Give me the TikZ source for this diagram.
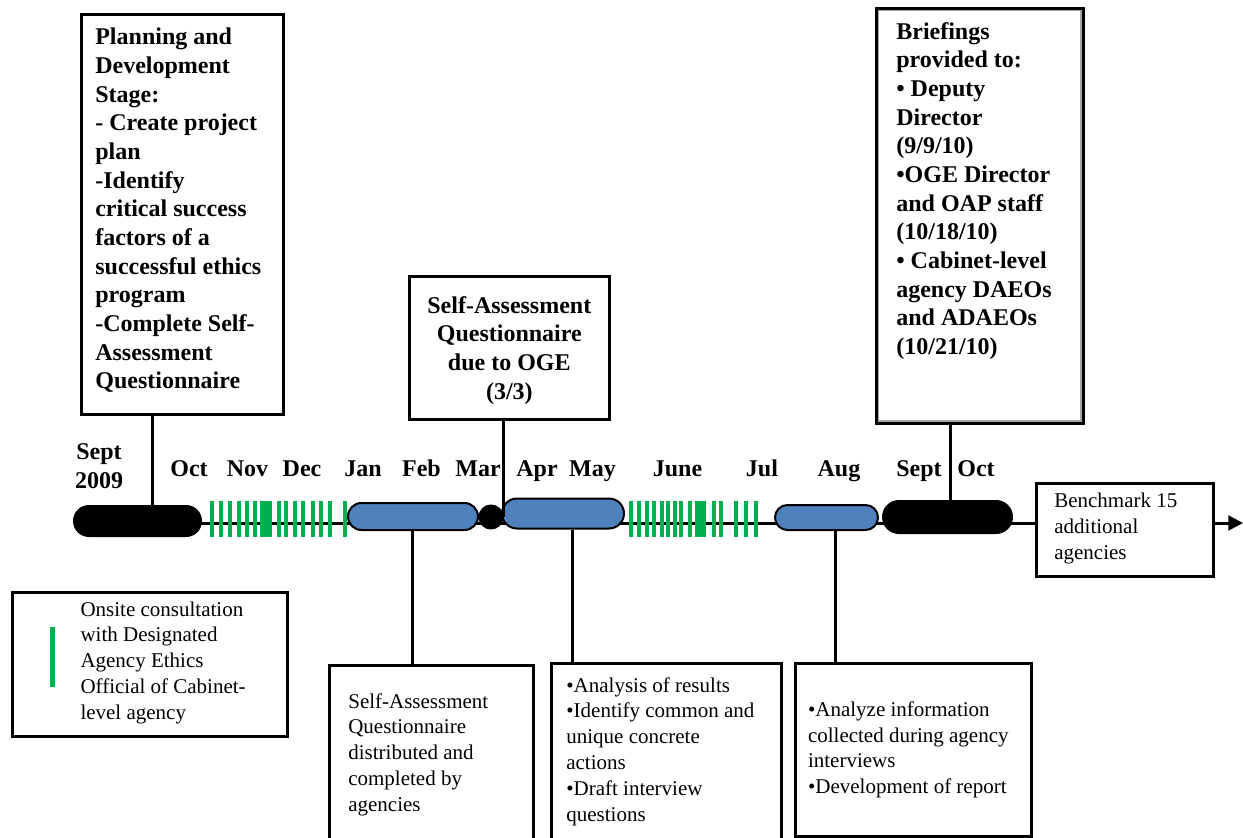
\documentclass[tikz,border=0pt]{standalone}
\usepackage{fontspec}
\setmainfont{Liberation Serif}
\usepackage{tikz}
\usetikzlibrary{shapes.misc,arrows.meta}
\definecolor{pillblue}{RGB}{79,129,189}
\definecolor{consultgreen}{RGB}{0,176,80}
\newcommand{\boldtext}{\fontsize{18}{21.5}\selectfont\bfseries}
\newcommand{\plaintext}{\fontsize{15.75}{19.4}\selectfont}
\tikzset{every picture/.style={line width=0.75pt}}
\tikzset{
  stagebox/.style={draw, line width=2pt, anchor=north west, fill=white},
  monthlbl/.style={font=\boldtext, inner sep=0pt, anchor=base},
  blackpill/.style={rounded rectangle, draw=black, fill=black, line width=1.5pt, inner sep=0pt},
  bluepill/.style={rounded rectangle, draw=black, fill=pillblue, line width=1.5pt, inner sep=0pt},
  link/.style={line width=2.25pt},
  axis/.style={line width=2.25pt},
  consult/.style={draw=consultgreen, line width=3pt},
}

\begin{document}
\begin{tikzpicture}[x=0.75pt,y=0.75pt,yscale=-1,xscale=1]
\useasboundingbox (0,0) rectangle (1243,838);

%Shape: Benchmark box
\node[stagebox, inner xsep=13.5pt, inner ysep=7.5pt, font=\plaintext] (bench) at (1035,482) {\begin{minipage}[t][54.75pt][t]{105.75pt}\raggedright
Benchmark 15\\ additional\\ agencies
\end{minipage}};

%Straight Lines: time line
\coordinate (tl) at (78,523);
\coordinate (tlend) at (1243,523);
\draw[axis] (tl) -- (tl -| bench.west);
\draw[axis, -{Triangle[length=11pt, width=11pt]}] (tl -| bench.east) -- (tlend);

%Straight Lines: onsite consultations
\foreach \x in {211.5,221,230,239,247,255,262,266,269.5,279,286,295,303,313,321,330,345}
  \draw[consult] (\x,501) -- (\x,537);
\foreach \x in {630.5,639,646.5,654,661.5,668,675,680.5,690,697,701,704,714,720.5,736,745.5,755.5}
  \draw[consult] (\x,501) -- (\x,537);

%Shape: phases
\node[blackpill, minimum width=95.25pt, minimum height=22.5pt] (sep09) at (137.5,521) {};
\node[bluepill, minimum width=97.5pt, minimum height=20.25pt] (janfeb) at (413,516.5) {};
\node[circle, fill=black, draw=black, minimum size=18pt, inner sep=0pt] (mar) at (491,517) {};
\node[bluepill, minimum width=91.5pt, minimum height=22.5pt] (aprmay) at (563,513.5) {};
\node[bluepill, minimum width=77.25pt, minimum height=18.75pt] (aug) at (826.5,517.5) {};
\node[blackpill, minimum width=96.75pt, minimum height=24pt] (sepoct) at (947.5,517) {};

% Text Node: months
\node[monthlbl, anchor=north, align=center] (sept09) at (99,443) {Sept\\2009};
\node[monthlbl] (oct09) at (189,476) {Oct};
\node[monthlbl] (nov) at (247.5,476) {Nov};
\node[monthlbl] (dec) at (302,476) {Dec};
\node[monthlbl] (jan) at (363,476) {Jan};
\node[monthlbl] (feb) at (421.5,476) {Feb};
\node[monthlbl] (marlbl) at (478,476) {Mar};
\node[monthlbl] (apr) at (537,476) {Apr};
\node[monthlbl] (may) at (592.5,476) {May};
\node[monthlbl] (june) at (677.5,476) {June};
\node[monthlbl] (jul) at (762,476) {Jul};
\node[monthlbl] (auglbl) at (839,476) {Aug};
\node[monthlbl] (sept10) at (919,476) {Sept};
\node[monthlbl] (oct10) at (976,476) {Oct};

%Shape: Planning box
\node[stagebox, inner xsep=10.5pt, inner ysep=10.5pt, font=\boldtext] (plan) at (80,13) {\begin{minipage}[t][279pt][t]{130.5pt}\raggedright
Planning and\\ Development\\ Stage:\\ - Create project\\ plan\\ -Identify\\ critical success\\ factors of a\\ successful ethics\\ program\\ -Complete Self-\\ Assessment\\ Questionnaire
\end{minipage}};

%Shape: due box
\node[stagebox, inner xsep=9pt, inner ysep=15pt, font=\boldtext] (due) at (408,275) {\begin{minipage}[t][77.25pt][t]{132pt}\centering
Self-Assessment\\ Questionnaire\\ due to OGE\\ (3/3)
\end{minipage}};

%Shape: Briefings box
\node[stagebox, inner xsep=15pt, inner ysep=10.5pt, font=\boldtext] (brief) at (875,7) {\begin{minipage}[t][290.25pt][t]{125.25pt}\raggedright
Briefings\\ provided to:\\ • Deputy\\ Director\\ (9/9/10)\\ •OGE Director\\ and OAP staff\\ (10/18/10)\\ • Cabinet-level\\ agency DAEOs\\ and ADAEOs\\ (10/21/10)
\end{minipage}};
\draw[gray!70, line width=1.2pt] ([shift={(3.5,3.5)}]brief.north west) rectangle ([shift={(-3.5,-3.5)}]brief.south east);

%Shape: legend
\node[stagebox, minimum width=206.25pt, minimum height=108pt] (legend) at (11,591) {};
\draw[consult, line width=3.75pt] ([shift={(41,36)}]legend.north west) -- ([shift={(41,96)}]legend.north west);
\node[anchor=north west, inner sep=0pt, font=\plaintext, align=left] (legtext) at (80,601) {Onsite consultation\\ with Designated\\ Agency Ethics\\ Official of Cabinet-\\ level agency};

%Shape: lower boxes
\node[stagebox, inner xsep=14.25pt, inner ysep=21pt, font=\plaintext] (dist) at (328,664) {\begin{minipage}[t][91.5pt][t]{124.5pt}\raggedright
Self-Assessment\\ Questionnaire\\ distributed and\\ completed by\\ agencies
\end{minipage}};
\node[stagebox, inner xsep=11.25pt, inner ysep=10.5pt, font=\plaintext] (anal) at (550,662) {\begin{minipage}[t][114pt][t]{150pt}\raggedright
•Analysis of results\\ •Identify common and\\ unique concrete\\ actions\\ •Draft interview\\ questions
\end{minipage}};
\node[stagebox, inner xsep=9.5pt, inner ysep=7.5pt, font=\plaintext] (rep) at (794,662) {\begin{minipage}[t][114.75pt][c]{158pt}\raggedright
•Analyze information\\ collected during agency\\ interviews\\ •Development of report
\end{minipage}};

%Straight Lines: connectors
\coordinate (planx) at (152,0);
\coordinate (duex) at (503,0);
\coordinate (briefx) at (950,0);
\coordinate (distx) at (412,0);
\coordinate (analx) at (572,0);
\coordinate (repx) at (835,0);
\draw[link] (planx |- plan.south) -- (planx |- sep09.north);
\draw[link] (duex |- due.south) -- (duex |- mar.center);
\draw[link] (briefx |- brief.south) -- (briefx |- sepoct.north);
\draw[link] (distx |- janfeb.south) -- (distx |- dist.north);
\draw[link] (analx |- aprmay.south) -- (analx |- anal.north);
\draw[link] (repx |- aug.south) -- (repx |- rep.north);

\end{tikzpicture}
\end{document}
